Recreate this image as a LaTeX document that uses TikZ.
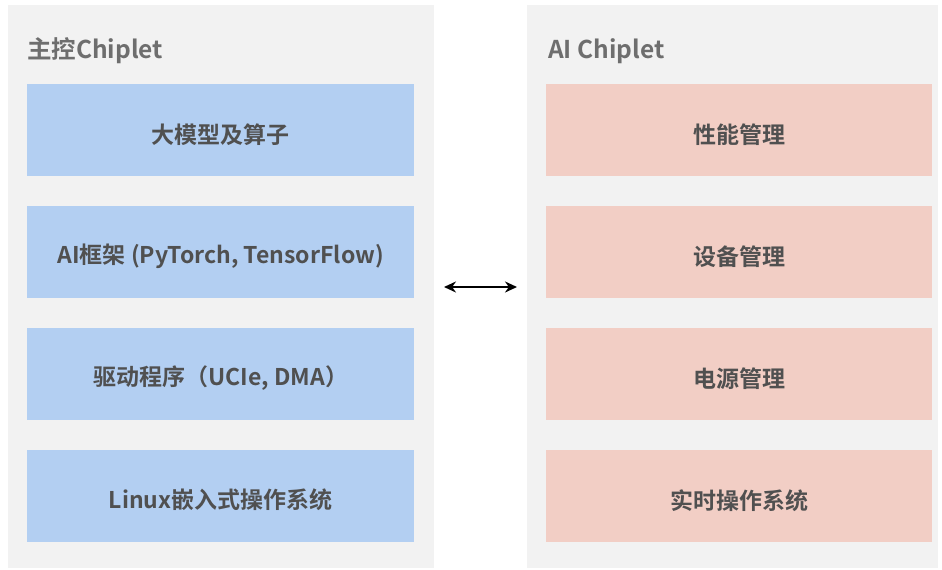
\documentclass[tikz,border=0pt]{standalone}
\usepackage{fontspec}
\setmainfont{Noto Sans CJK SC}[BoldFont={* Bold}]
\usetikzlibrary{arrows.meta}
\definecolor{panelgray}{HTML}{F2F2F2}
\definecolor{bluebox}{HTML}{B3CFF2}
\definecolor{pinkbox}{HTML}{F2CEC5}
\definecolor{titlegray}{HTML}{6E6E6E}
\definecolor{textgray}{HTML}{505050}
\tikzset{
  panel/.style={fill=panelgray, draw=none, anchor=north west, inner sep=0pt},
  layerbox/.style={draw=none, minimum width=387pt, minimum height=92pt, anchor=north west, inner sep=0pt},
  leftbox/.style={layerbox, fill=bluebox},
  rightbox/.style={layerbox, fill=pinkbox, minimum width=386pt},
  boxlabel/.style={inner sep=0pt, font=\fontsize{23}{26}\selectfont\bfseries, text=textgray},
  paneltitle/.style={anchor=base west, inner sep=0pt, font=\fontsize{24.5}{28}\selectfont\bfseries, text=titlegray},
  link/.style={{Stealth[length=12pt,width=11pt]}-{Stealth[length=12pt,width=11pt]}, line width=2.6pt, black}
}
\begin{document}
\begin{tikzpicture}[x=1pt,y=-1pt]
\useasboundingbox (0,0) rectangle (942,570);
\fill[white] (0,0) rectangle (942,570);
\node[panel, minimum width=426pt, minimum height=563pt] (lp) at (8,5) {};
\node[panel, minimum width=411pt, minimum height=563pt] (rp) at (527,5) {};
\node[paneltitle] (lt) at (27,58) {主控Chiplet};
\node[paneltitle] (rt) at (548,58) {AI Chiplet};
\node[leftbox] (l1) at (27,84) {};
\node[leftbox] (l2) at (27,206) {};
\node[leftbox] (l3) at (27,328) {};
\node[leftbox] (l4) at (27,450) {};
\node[rightbox] (r1) at (546,84) {};
\node[rightbox] (r2) at (546,206) {};
\node[rightbox] (r3) at (546,328) {};
\node[rightbox] (r4) at (546,450) {};
\node[boxlabel] (t1) at ([yshift=-4pt]l1.center) {大模型及算子};
\node[boxlabel] (t2) at ([yshift=-4pt]l2.center) {AI框架 (PyTorch, TensorFlow)};
\node[boxlabel] (t3) at ([yshift=-4pt]l3.center) {驱动程序（UCIe, DMA）};
\node[boxlabel] (t4) at ([yshift=-4pt]l4.center) {Linux嵌入式操作系统};
\node[boxlabel] (u1) at ([yshift=-4pt]r1.center) {性能管理};
\node[boxlabel] (u2) at ([yshift=-4pt]r2.center) {设备管理};
\node[boxlabel] (u3) at ([yshift=-4pt]r3.center) {电源管理};
\node[boxlabel] (u4) at ([yshift=-4pt]r4.center) {实时操作系统};
\coordinate (al) at (444,287);
\coordinate (ar) at (517,287);
\draw[link] (al) -- (ar);
\end{tikzpicture}
\end{document}
